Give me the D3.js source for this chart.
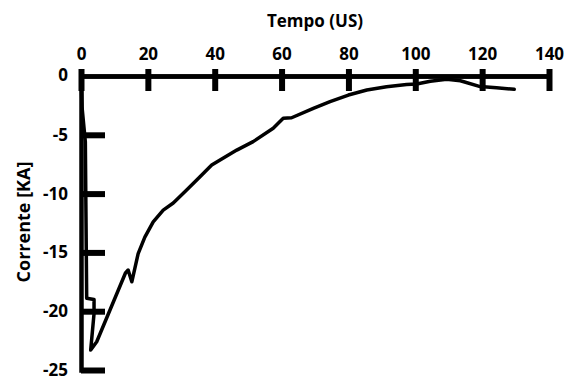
<!DOCTYPE html>
<html>
<head>
<meta charset="utf-8">
<script src="https://cdn.jsdelivr.net/npm/d3@7"></script>
<style>
  body { margin: 0; background: #fff; }
  text { font-family: "Open Sans", sans-serif; font-weight: bold; fill: #000; }
</style>
</head>
<body>
<div id="chart"></div>
<script>
// tempo (us) and corrente (kA)
var tempo = [0, 0.3, 1.3, 1.7, 3.9, 3.9, 2.9, 4.7, 13.3, 14.1, 15.2, 17.1, 19.1, 21.6, 24.6, 27.6,
  31.6, 35.6, 39.1, 41.6, 46.6, 51.5, 57.5, 60.5, 63.0, 69.5, 74.5, 80.0, 85.5, 91.4, 97.4, 100.4,
  104.5, 109.4, 113.5, 119.4, 124.3, 129.6];
var corrente = [0, -2.6, -5.6, -18.9, -19.0, -20.2, -23.3, -22.6, -16.75, -16.5, -17.5, -15.1, -13.7, -12.4, -11.4, -10.8,
  -9.7, -8.56, -7.57, -7.14, -6.3, -5.58, -4.45, -3.6, -3.55, -2.75, -2.18, -1.62, -1.19, -0.91, -0.72, -0.68,
  -0.45, -0.28, -0.4, -0.9, -1.0, -1.13];

var xTicks = [0, 20, 40, 60, 80, 100, 120, 140];
var yTicks = [0, -5, -10, -15, -20, -25];

var svgWidth = 566;
var svgHeight = 383;

var svg = d3.select("#chart")
  .append("svg")
  .attr("width", svgWidth)
  .attr("height", svgHeight);

var x = d3.scaleLinear()
  .domain([0, 140])
  .range([81, 549]);

var y = d3.scaleLinear()
  .domain([0, -25])
  .range([76, 370]);

var plain = function(d) { return String(d); };

// x axis on top: short ticks + labels above, longer ticks below
var xTop = svg.append("g")
  .attr("transform", "translate(0," + y(0) + ")")
  .call(d3.axisTop(x).tickValues(xTicks).tickSizeInner(7).tickSizeOuter(0).tickPadding(9).tickFormat(plain));

var xBottom = svg.append("g")
  .attr("transform", "translate(0," + y(0) + ")")
  .call(d3.axisBottom(x).tickValues(xTicks).tickSizeInner(15).tickSizeOuter(0).tickFormat(""));

var yAxis = svg.append("g")
  .attr("transform", "translate(" + x(0) + ",0)")
  .call(d3.axisLeft(y).tickValues(yTicks.slice(1)).tickSizeInner(-24).tickSizeOuter(0).tickPadding(13).tickFormat(plain));

// y label for 0 sits next to the corner
yAxis.append("text")
  .attr("x", -13)
  .attr("y", y(0))
  .attr("dy", "0.32em")
  .attr("text-anchor", "end")
  .text(plain(yTicks[0]));

[xTop, xBottom, yAxis].forEach(function(g) {
  g.selectAll(".domain").attr("stroke", "#000").attr("stroke-width", 4.5);
  g.selectAll(".tick line").attr("stroke", "#000").attr("stroke-width", 6);
  g.selectAll("text").attr("font-size", 17).attr("fill", "#000");
});

yAxis.select(".domain").attr("stroke-linecap", "square");

var line = d3.line()
  .x(function(d, i) { return x(tempo[i]); })
  .y(function(d) { return y(d); });

svg.append("path")
  .datum(corrente)
  .attr("d", line)
  .attr("fill", "none")
  .attr("stroke", "#000")
  .attr("stroke-width", 3.5)
  .attr("stroke-linejoin", "round")
  .attr("stroke-linecap", "round");

svg.append("text")
  .attr("x", 315)
  .attr("y", 27)
  .attr("text-anchor", "middle")
  .attr("font-size", 17)
  .text("Tempo (US)");

svg.append("text")
  .attr("transform", "translate(30,222) rotate(-90)")
  .attr("text-anchor", "middle")
  .attr("font-size", 18)
  .text("Corrente [KA]");
</script>
</body>
</html>
